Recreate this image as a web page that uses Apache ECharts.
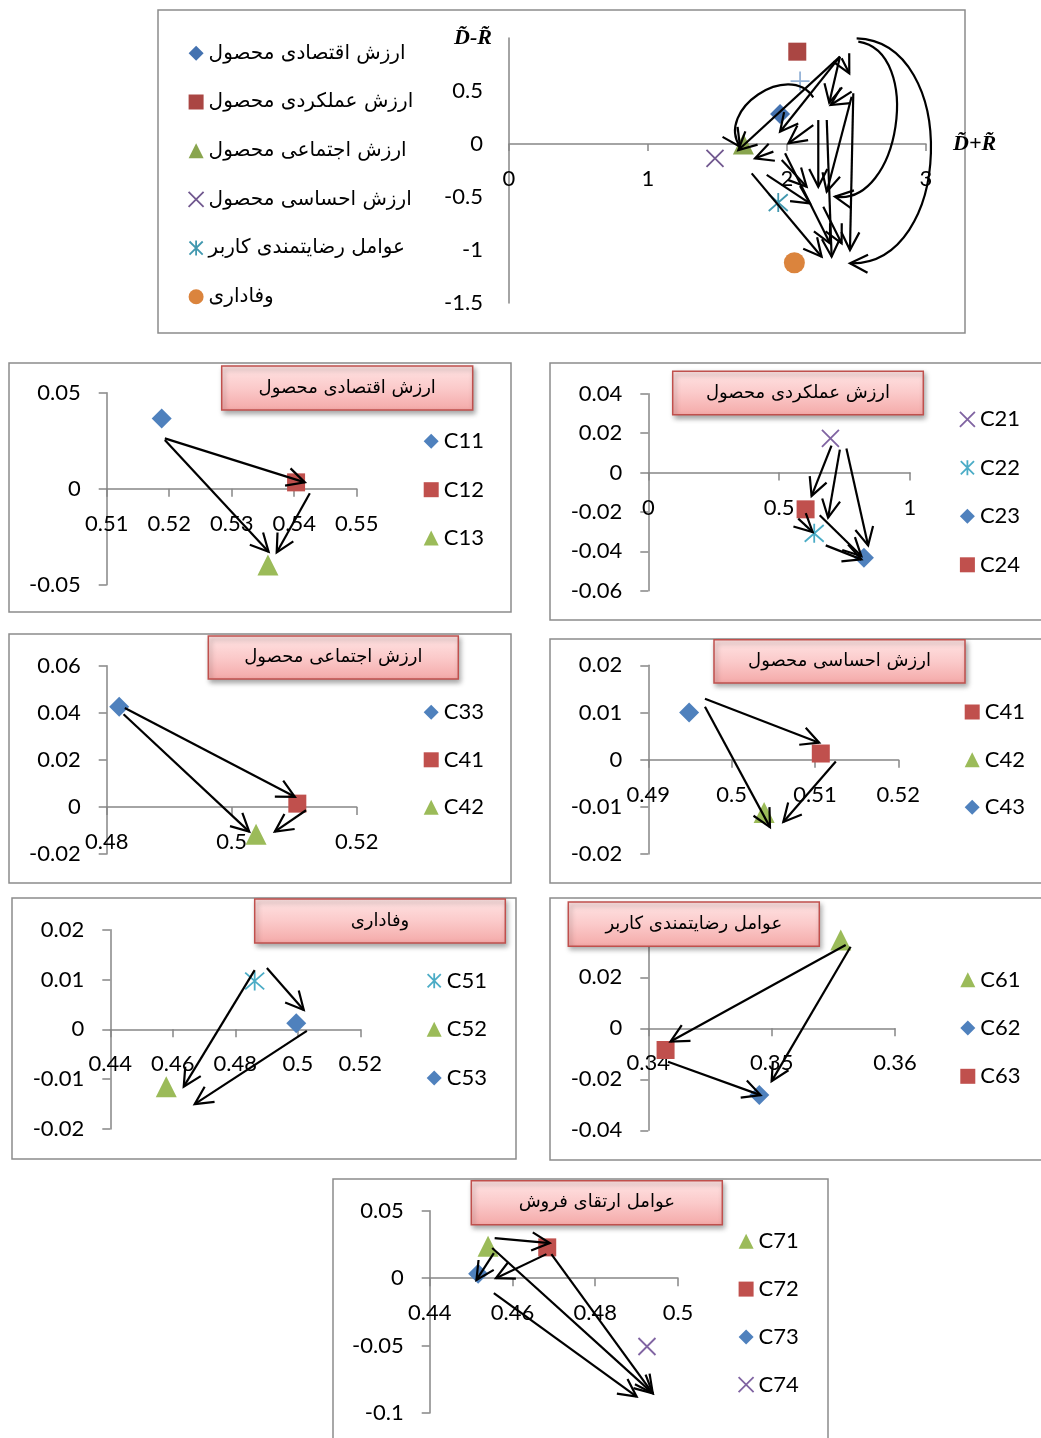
<!DOCTYPE html>
<html><head><meta charset="utf-8">
<script src="https://cdn.jsdelivr.net/npm/echarts@6/dist/echarts.min.js"></script>
<style>html,body{margin:0;padding:0;background:#fff;overflow:hidden}#c{width:1041px;height:1438px}</style>
</head><body><div id="c"></div><script>
// ---------------- DATA ----------------
// Top overview chart (D+R vs D-R)
const topNames = ['ارزش اقتصادی محصول','ارزش عملکردی محصول','ارزش اجتماعی محصول','ارزش احساسی محصول','عوامل رضایتمندی کاربر','وفاداری'];
const topX = [1.950, 2.074, 1.686, 1.482, 1.937, 2.053];
const topY = [0.283, 0.871, 0.000, -0.135, -0.553, -1.120];
const topExtraName = 'عوامل ارتقای فروش';
const topExtraX = [2.094];
const topExtraY = [0.594];
const topXRange = [0, 3, 1];
const topYRange = [-1.5, 1, 0.5];
const topXTitle = 'D̃+R̃';
const topYTitle = 'D̃-R̃';
// arrows: [fromX, fromY, toX, toY, curve]
const topArrows = [
  [2.381,0.824,1.650,-0.057,0],[2.381,0.824,1.950,0.116,0],[2.381,0.824,2.304,0.390,0],
  [2.393,0.808,2.448,0.667,0],[2.465,0.494,2.314,0.368,0],[2.189,0.179,2.010,0.006,0],
  [1.902,-0.072,1.770,-0.135,0],[2.477,0.478,2.453,-1.000,0],[2.286,0.226,2.321,-1.063,0],
  [2.225,0.226,2.225,-0.403,0],[2.465,0.446,2.286,-0.450,0],[1.746,-0.277,2.249,-1.063,0],
  [1.854,-0.292,2.165,-0.560,0],[1.962,-0.151,2.141,-0.403,0],[1.986,-0.088,2.309,-0.937,0],
  [2.261,-0.591,2.393,-0.937,0],
  [2.501,0.997,2.453,-1.125,0.46],[2.513,0.965,2.345,-0.497,0.42],[2.189,0.440,1.662,-0.025,-0.5]
];

// 1: ارزش اقتصادی محصول
const econTitle = 'ارزش اقتصادی محصول';
const econNames = ['C11','C12','C13'];
const econX = [0.5188, 0.5403, 0.5358];
const econY = [0.0366, 0.0033, -0.0397];
const econXRange = [0.51, 0.55, 0.01];
const econYRange = [-0.05, 0.05, 0.05];
const econArrows = [[0.5193,0.0262,0.5417,0.0033],[0.5193,0.0254,0.5359,-0.0328],[0.5425,-0.0024,0.5372,-0.0332]];

// 2: ارزش عملکردی محصول
const funcTitle = 'ارزش عملکردی محصول';
const funcNames = ['C21','C22','C23','C24'];
const funcX = [0.696, 0.634, 0.824, 0.601];
const funcY = [0.0173, -0.0309, -0.0433, -0.0187];
const funcXRange = [0, 1, 0.5];
const funcYRange = [-0.06, 0.04, 0.02];
const funcArrows = [[0.700,0.0136,0.624,-0.0119],[0.732,0.0116,0.687,-0.0229],[0.757,0.0122,0.840,-0.0370],
  [0.573,-0.0234,0.628,-0.0302],[0.655,-0.0217,0.814,-0.0424],[0.678,-0.0370,0.814,-0.0441]];

// 3: ارزش اجتماعی محصول
const socTitle = 'ارزش اجتماعی محصول';
const socNames = ['C33','C41','C42'];
const socX = [0.4820, 0.5105, 0.5039];
const socY = [0.0426, 0.0014, -0.0116];
const socXRange = [0.48, 0.52, 0.02];
const socYRange = [-0.02, 0.06, 0.02];
const socArrows = [[0.4829,0.0420,0.5101,0.0043],[0.4827,0.0394,0.5028,-0.0105],[0.5119,-0.0014,0.5069,-0.0105]];

// 4: ارزش احساسی محصول
const emoTitle = 'ارزش احساسی محصول';
const emoNames = ['C41','C42','C43'];
const emoX = [0.5107, 0.5039, 0.4949];
const emoY = [0.0013, -0.0112, 0.0100];
const emoXRange = [0.49, 0.52, 0.01];
const emoYRange = [-0.02, 0.02, 0.01];
const emoArrows = [[0.4968,0.0129,0.5105,0.0036],[0.4968,0.0112,0.5046,-0.0143],[0.5125,-0.0004,0.5062,-0.0132]];

// 5: وفاداری
const loyTitle = 'وفاداری';
const loyNames = ['C51','C52','C53'];
const loyX = [0.4862, 0.4579, 0.4995];
const loyY = [0.0097, -0.0115, 0.0012];
const loyXRange = [0.44, 0.52, 0.02];
const loyYRange = [-0.02, 0.02, 0.01];
const loyArrows = [[0.4901,0.0123,0.5019,0.0039],[0.4862,0.0119,0.4635,-0.0115],[0.5029,-0.0003,0.4670,-0.0150]];

// 6: عوامل رضایتمندی کاربر
const satTitle = 'عوامل رضایتمندی کاربر';
const satNames = ['C61','C62','C63'];
const satX = [0.3556, 0.3490, 0.3414];
const satY = [0.0346, -0.0262, -0.0085];
const satXRange = [0.34, 0.36, 0.01];
const satYRange = [-0.04, 0.04, 0.02];
const satArrows = [[0.3560,0.0327,0.3418,-0.0052],[0.3564,0.0320,0.3500,-0.0207],[0.3416,-0.0131,0.3491,-0.0262]];

// 7: عوامل ارتقای فروش
const saleTitle = 'عوامل ارتقای فروش';
const saleNames = ['C71','C72','C73','C74'];
const saleX = [0.4541, 0.4684, 0.4517, 0.4925];
const saleY = [0.0236, 0.0228, 0.0032, -0.0507];
const saleXRange = [0.44, 0.5, 0.02];
const saleYRange = [-0.1, 0.05, 0.05];
const saleArrows = [[0.4557,0.0297,0.4690,0.0260],[0.4551,0.0223,0.4939,-0.0854],[0.4694,0.0178,0.4939,-0.0854],
  [0.4682,0.0178,0.4560,0.0000],[0.4555,0.0186,0.4513,-0.0013],[0.4555,-0.0111,0.4900,-0.0879]];

// ---------------- STYLE / LAYOUT ----------------
const MK = {
  diamond:{symbol:'diamond', size:20, color:'#4F81BD'},
  square:{symbol:'rect', size:18, color:'#C0504D'},
  triangle:{symbol:'triangle', size:21, color:'#9BBB59'},
  x:{symbol:'path://M0,0L10,10M10,0L0,10', size:17, color:'#8064A2', stroke:true},
  star:{symbol:'path://M5,0L5,10M0.6,0.6L9.4,9.4M0.6,9.4L9.4,0.6', size:19, color:'#4BACC6', stroke:true},
  circle:{symbol:'circle', size:21, color:'#DB843D'},
  plus:{symbol:'path://M5,0L5,10M0,5L10,5', size:19, color:'#95B3D7', stroke:true}
};
const TOPCOL = {diamond:'#4472B0', square:'#AA4643', triangle:'#89A54E', x:'#71588F', star:'#4198AF', circle:'#DB843D', plus:'#95B3D7'};

const charts = [
  {names:topNames, xs:topX, ys:topY, mk:['diamond','square','triangle','x','star','circle'], arrows:topArrows, xr:topXRange, yr:topYRange, top:true,
   box:[158,10,807,323], grid:[509,38,417,265], legend:[187.7,41.3,24.7]},
  {names:econNames, xs:econX, ys:econY, mk:['diamond','square','triangle'], arrows:econArrows, xr:econXRange, yr:econYRange, title:econTitle,
   box:[9,363,502,249], grid:[106.7,392.7,250,192], legend:[423.7,429.3,24.4], tbox:[221.7,366,251,44]},
  {names:funcNames, xs:funcX, ys:funcY, mk:['x','star','diamond','square'], arrows:funcArrows, xr:funcXRange, yr:funcYRange, title:funcTitle,
   box:[550,363,500,257], grid:[648.3,393.7,261.7,197], legend:[959,407.3,24.5], tbox:[672.7,371.3,250.6,43.4]},
  {names:socNames, xs:socX, ys:socY, mk:['diamond','square','triangle'], arrows:socArrows, xr:socXRange, yr:socYRange, title:socTitle,
   box:[9,634,502,249], grid:[106.7,665.7,250,188.3], legend:[423.7,700.3,23.5], tbox:[208.3,636,250,43]},
  {names:emoNames, xs:emoX, ys:emoY, mk:['square','triangle','diamond'], arrows:emoArrows, xr:emoXRange, yr:emoYRange, title:emoTitle,
   box:[550,639,500,244], grid:[648.3,665.3,250,188.7], legend:[964.7,700,23.65], tbox:[714,639.7,251,43.3]},
  {names:loyNames, xs:loyX, ys:loyY, mk:['star','triangle','diamond'], arrows:loyArrows, xr:loyXRange, yr:loyYRange, title:loyTitle,
   box:[12,898,504,261], grid:[110.3,929.7,250,199.3], legend:[426.7,968.7,24.65], tbox:[254.7,899,250.6,44]},
  {names:satNames, xs:satX, ys:satY, mk:['triangle','diamond','square'], arrows:satArrows, xr:satXRange, yr:satYRange, title:satTitle,
   box:[550,898,500,262], grid:[648.3,926.3,246.7,204], legend:[960.3,967.7,24.3], tbox:[568.3,902,251,44.3]},
  {names:saleNames, xs:saleX, ys:saleY, mk:['triangle','square','diamond','x'], arrows:saleArrows, xr:saleXRange, yr:saleYRange, title:saleTitle,
   box:[333,1179,495,270], grid:[429.7,1210.7,248.3,202.3], legend:[737.7,1229.3,23.8], tbox:[471.3,1180.7,251,44]}
];

const AXC = '#868686';
const NUMFONT = 'Lato';
const FAFONT = '"DejaVu Sans"';

function arrowRender(lw, head) {
  return function (params, api) {
    const a = api.coord([api.value(0), api.value(1)]);
    const b = api.coord([api.value(2), api.value(3)]);
    const c = api.value(4) || 0;
    const dx = b[0]-a[0], dy = b[1]-a[1], len = Math.hypot(dx, dy);
    const children = [];
    let tx, ty;
    if (c) {
      const nx = dy/len, ny = -dx/len;
      const p1 = [a[0]+nx*c*len, a[1]+ny*c*len], p2 = [b[0]+nx*c*len, b[1]+ny*c*len];
      children.push({type:'bezierCurve', shape:{x1:a[0],y1:a[1],x2:b[0],y2:b[1],cpx1:p1[0],cpy1:p1[1],cpx2:p2[0],cpy2:p2[1]},
        style:{stroke:'#000', fill:'none', lineWidth:lw}});
      tx = b[0]-p2[0]; ty = b[1]-p2[1];
    } else {
      children.push({type:'line', shape:{x1:a[0],y1:a[1],x2:b[0],y2:b[1]}, style:{stroke:'#000', lineWidth:lw}});
      tx = dx; ty = dy;
    }
    const tl = Math.hypot(tx, ty); tx /= tl; ty /= tl;
    const ang = 0.47, cs = Math.cos(ang), sn = Math.sin(ang);
    const h1 = [b[0]-head*(tx*cs-ty*sn), b[1]-head*(tx*sn+ty*cs)];
    const h2 = [b[0]-head*(tx*cs+ty*sn), b[1]-head*(-tx*sn+ty*cs)];
    children.push({type:'polyline', shape:{points:[h1, b, h2]}, style:{stroke:'#000', fill:'none', lineWidth:lw}});
    return {type:'group', children};
  };
}

const grid = [], xAxis = [], yAxis = [], series = [], legend = [], graphic = [];

charts.forEach(function (ch, k) {
  grid.push({left:ch.grid[0], top:ch.grid[1], width:ch.grid[2], height:ch.grid[3], containLabel:false, outerBoundsMode:'none'});
  // the horizontal axis crosses the vertical axis at y = 0
  const zeroShift = ch.grid[3] * (0 - ch.yr[0]) / (ch.yr[1] - ch.yr[0]);
  xAxis.push({
    gridIndex:k, type:'value', min:ch.xr[0], max:ch.xr[1], interval:ch.xr[2], position:'bottom', offset:-zeroShift,
    name: ch.top ? topXTitle : '', nameLocation:'end', nameGap:27,
    nameTextStyle:{fontFamily:'"Liberation Serif"', fontWeight:'bold', fontStyle:'italic', fontSize:22, color:'#000', align:'left', verticalAlign:'middle', padding:[0,0,8,0]},
    axisLine:{onZero:false, lineStyle:{color:AXC, width:1.5}},
    axisTick:{show:true, length: ch.top ? 7 : 8, lineStyle:{color:AXC, width:1.5}},
    axisLabel:{margin:24, color:'#000', fontFamily:NUMFONT, fontSize:22},
    splitLine:{show:false}
  });
  yAxis.push({
    gridIndex:k, type:'value', min:ch.yr[0], max:ch.yr[1], interval:ch.yr[2],
    name: ch.top ? topYTitle : '', nameLocation:'end', nameGap:0,
    nameTextStyle:{fontFamily:'"Liberation Serif"', fontWeight:'bold', fontStyle:'italic', fontSize:22, color:'#000', align:'right', verticalAlign:'middle', padding:[0,17,0,0]},
    axisLine:{onZero:false, lineStyle:{color:AXC, width:1.5}},
    axisTick:{show: !ch.top, length:8, lineStyle:{color:AXC, width:1.5}},
    axisLabel:{margin:26, color:'#000', fontFamily:NUMFONT, fontSize:22,
      formatter: ch.top ? function (v) { return v === 1 ? '' : String(v); } : undefined},
    splitLine:{show:false}
  });
  const legendData = [];
  ch.names.forEach(function (nm, i) {
    const m = MK[ch.mk[i]];
    const col = ch.top ? TOPCOL[ch.mk[i]] : m.color;
    const itemStyle = m.stroke ? {color:'rgba(0,0,0,0)', borderColor:col, borderWidth:1.8, opacity:1} : {color:col, opacity:1};
    series.push({type:'scatter', name:nm, xAxisIndex:k, yAxisIndex:k, data:[[ch.xs[i], ch.ys[i]]],
      symbol:m.symbol, symbolSize:m.size, itemStyle:itemStyle, z:2, silent:true});
    legendData.push({name:nm, icon:m.symbol, itemStyle:itemStyle});
  });
  if (ch.top) {
    const m = MK.plus;
    series.push({type:'scatter', name:topExtraName, xAxisIndex:k, yAxisIndex:k,
      data: topExtraX.map(function (v, i) { return [v, topExtraY[i]]; }),
      symbol:m.symbol, symbolSize:m.size, itemStyle:{color:'rgba(0,0,0,0)', borderColor:TOPCOL.plus, borderWidth:1.8, opacity:1}, z:2, silent:true});
  }
  series.push({type:'custom', xAxisIndex:k, yAxisIndex:k, data:ch.arrows.map(function (r) { return [r[0], r[1], r[2], r[3], r[4] || 0]; }),
    renderItem: arrowRender(2.2, 20), clip:false, z:5, silent:true});
  legend.push({
    orient:'vertical', left:ch.legend[0], top:ch.legend[1], itemGap:ch.legend[2], itemWidth:15, itemHeight:15, padding:0,
    selectedMode:false, data:legendData,
    textStyle:{color:'#000', fontFamily: ch.top ? FAFONT : NUMFONT, fontSize: ch.top ? 20 : 22, lineHeight:24}
  });
  graphic.push({type:'rect', silent:true, z:0, shape:{x:ch.box[0], y:ch.box[1], width:ch.box[2], height:ch.box[3]},
    style:{fill:'none', stroke:'#8C8C8C', lineWidth:1.5}});
  if (ch.title) {
    const t = ch.tbox;
    graphic.push({type:'rect', silent:true, z:100, shape:{x:t[0], y:t[1], width:t[2], height:t[3]},
      style:{fill:{type:'linear', x:0, y:0, x2:0, y2:1, colorStops:[{offset:0, color:'#FFE4E4'},{offset:0.5, color:'#FBCACA'},{offset:1, color:'#F4A9A8'}]},
        stroke:'#C0504D', lineWidth:1.5, shadowBlur:5, shadowOffsetX:2, shadowOffsetY:3, shadowColor:'rgba(0,0,0,0.35)'}});
    graphic.push({type:'text', silent:true, z:101, x:t[0]+t[2]/2, y:t[1]+t[3]/2,
      style:{text:ch.title, font:'18px ' + FAFONT, fill:'#000', align:'center', verticalAlign:'middle'}});
  }
});

const chart = echarts.init(document.getElementById('c'), null, {renderer:'canvas'});
chart.setOption({
  animation:false, backgroundColor:'#fff',
  grid:grid, xAxis:xAxis, yAxis:yAxis, series:series, legend:legend, graphic:{elements:graphic}
});
</script></body></html>
